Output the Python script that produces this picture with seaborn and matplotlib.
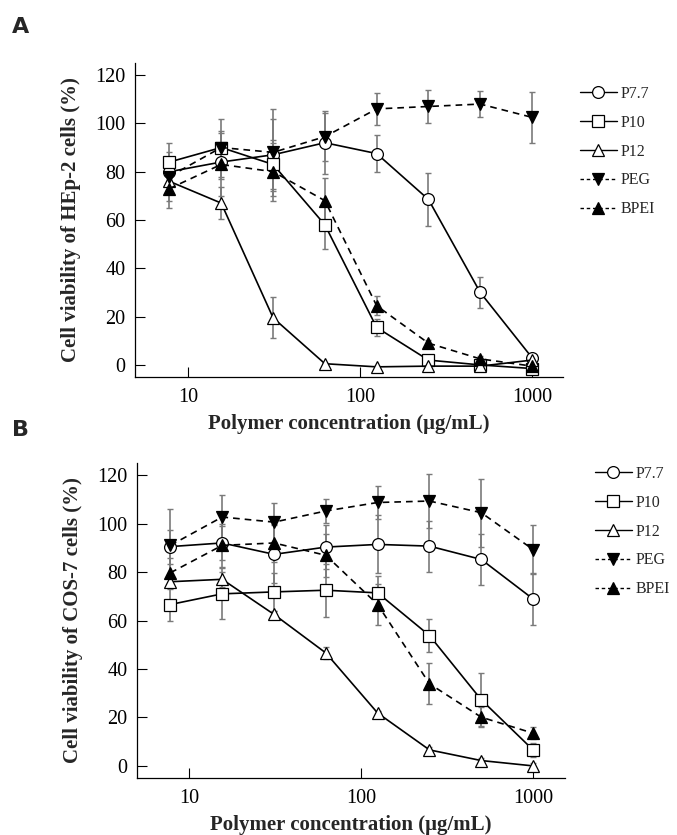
import matplotlib
matplotlib.use("Agg")
import matplotlib.pyplot as plt
import seaborn as sns
import pandas as pd
import numpy as np
from matplotlib.lines import Line2D

sns.set_theme(style="white")
plt.rcParams['font.family'] = ['Liberation Serif', 'DejaVu Serif']

# ---------------- data ----------------
conc = [7.8, 15.6, 31.25, 62.5, 125, 250, 500, 1000]
series = ["P7.7", "P10", "P12", "PEG", "BPEI"]

A_P77 = [80, 84, 87, 92, 87.5, 68.5, 30, 3]
A_P77_err = [6, 7, 15, 13, 7.5, 11, 6.5, 1.5]
A_P10 = [84, 90, 83, 58, 15.5, 2, 0, -1.5]
A_P10_err = [8, 7, 10, 10, 3.5, 1, 1, 0.5]
A_P12 = [76, 67, 19.5, 0.5, -0.8, -0.5, -0.5, 2]
A_P12_err = [5, 6.5, 8.5, 0.5, 0.5, 0.5, 0.5, 0.5]
A_PEG = [78, 90, 88, 94.5, 106, 107, 108, 102.5]
A_PEG_err = [10, 12, 18, 10, 6.5, 7, 5.5, 10.5]
A_BPEI = [73, 83, 80, 68, 24.5, 9, 2.5, -0.5]
A_BPEI_err = [8, 13, 12, 9.5, 4, 1.5, 1, 0.5]

B_P77 = [90.5, 92, 87.3, 90.3, 91.4, 90.7, 85.2, 68.9]
B_P77_err = [7, 7, 12, 9, 12, 10.5, 10.7, 10.6]
B_P10 = [66.6, 71, 71.8, 72.5, 71.4, 53.8, 27.3, 6.6]
B_P10_err = [7, 10.5, 8, 11, 7, 7, 11, 3]
B_P12 = [76, 77, 62.5, 46.6, 21.8, 6.6, 2.2, 0]
B_P12_err = [3, 3, 1.5, 2.5, 1, 1, 1, 1]
B_PEG = [91, 102.7, 100.6, 105.2, 108.7, 109.3, 104.5, 89.3]
B_PEG_err = [15, 9, 8, 5, 7, 11, 14, 10]
B_BPEI = [79.7, 91, 92, 86.9, 66.6, 33.9, 20.1, 13.5]
B_BPEI_err = [6, 9, 8, 9, 8.5, 8.5, 4, 2.5]

yticks = [0, 20, 40, 60, 80, 100, 120]
xticks = [10, 100, 1000]
xtick_labels = ["10", "100", "1000"]

panelA = {"P7.7": (A_P77, A_P77_err), "P10": (A_P10, A_P10_err), "P12": (A_P12, A_P12_err),
          "PEG": (A_PEG, A_PEG_err), "BPEI": (A_BPEI, A_BPEI_err)}
panelB = {"P7.7": (B_P77, B_P77_err), "P10": (B_P10, B_P10_err), "P12": (B_P12, B_P12_err),
          "PEG": (B_PEG, B_PEG_err), "BPEI": (B_BPEI, B_BPEI_err)}

styles = {
    "P7.7": dict(marker="o", mfc="white", ls="-"),
    "P10": dict(marker="s", mfc="white", ls="-"),
    "P12": dict(marker="^", mfc="white", ls="-"),
    "PEG": dict(marker="v", mfc="black", ls=(0, (4, 3))),
    "BPEI": dict(marker="^", mfc="black", ls=(0, (4, 3))),
}

MS = 8.5

fig = plt.figure(figsize=(6.77, 8.35), dpi=100)
axA = fig.add_axes([135/677, 1-377/835, (563-135)/677, (377-63)/835])
axB = fig.add_axes([137/677, 1-778/835, (565-137)/677, (778-463)/835])


def draw(ax, panel, ylabel, xlim):
    # error bars first
    for name in series:
        vals, errs = panel[name]
        ax.errorbar(conc, vals, yerr=errs, fmt="none", ecolor="#7a7a7a",
                    elinewidth=1.2, capsize=2.5, capthick=1.0, zorder=1)
    for name in series:
        vals, errs = panel[name]
        df = pd.DataFrame({"conc": conc, "val": vals})
        st = styles[name]
        sns.lineplot(data=df, x="conc", y="val", ax=ax, color="black",
                     marker=st["marker"], markersize=MS, markerfacecolor=st["mfc"],
                     markeredgecolor="black", markeredgewidth=0.9,
                     linestyle=st["ls"], linewidth=1.2, zorder=3, legend=False)
    ax.set_xscale("log")
    ax.set_xlim(*xlim)
    ax.set_ylim(-5, 125)
    ax.set_yticks(yticks)
    ax.set_yticklabels([str(t) for t in yticks])
    ax.set_xticks(xticks)
    ax.set_xticklabels(xtick_labels)
    ax.xaxis.set_minor_locator(matplotlib.ticker.NullLocator())
    ax.tick_params(axis="both", direction="in", length=7, width=0.8, colors="black",
                   labelsize=14.5, left=True, bottom=True)
    ax.tick_params(axis="x", pad=8)
    ax.tick_params(axis="y", pad=7)
    for s in ["top", "right"]:
        ax.spines[s].set_visible(False)
    for s in ["left", "bottom"]:
        ax.spines[s].set_color("black")
        ax.spines[s].set_linewidth(0.9)
    ax.set_xlabel("Polymer concentration (μg/mL)", fontsize=15, fontweight="bold", labelpad=5)
    ax.set_ylabel(ylabel, fontsize=15, fontweight="bold", labelpad=10)
    ax.grid(False)


draw(axA, panelA, "Cell viability of HEp-2 cells (%)", (4.92, 1514))
draw(axB, panelB, "Cell viability of COS-7 cells (%)", (4.99, 1534))


def legend(anchor):
    handles = []
    for name in series:
        st = styles[name]
        ls = "-" if st["ls"] == "-" else (0, (2.5, 2))
        handles.append(Line2D([], [], color="black", lw=1.0, ls=ls, marker=st["marker"],
                              markersize=MS, markerfacecolor=st["mfc"], markeredgecolor="black",
                              markeredgewidth=0.9))
    fig.legend(handles, series, loc="upper left", bbox_to_anchor=anchor, frameon=False,
               fontsize=11.5, handlelength=2.3, handletextpad=0.25, labelspacing=0.8,
               borderpad=0, borderaxespad=0)


legend((580/677, 1-86/835))
legend((595/677, 1-466/835))

fig.text(12/677, 1-33/835, "A", fontsize=16, fontweight="bold", family="DejaVu Sans")
fig.text(12/677, 1-436/835, "B", fontsize=16, fontweight="bold", family="DejaVu Sans")

fig.savefig("out.png", dpi=100)
